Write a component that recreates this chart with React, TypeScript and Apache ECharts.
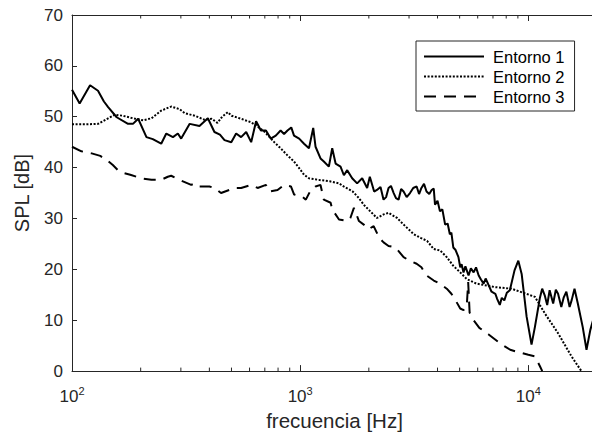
import React, { useEffect, useRef } from "react";
import * as echarts from "echarts";

const FONT = "'Liberation Sans', Arial, Helvetica, sans-serif";
const INK = "#262626";

const SERIES_NAMES = ["Entorno 1", "Entorno 2", "Entorno 3"];
const X_MIN = 100;
const X_MAX = 20000;
const Y_MIN = 0;
const Y_MAX = 70;
const Y_STEP = 10;
const MINOR_TICKS = [200, 300, 400, 500, 600, 700, 800, 900, 2000, 3000, 4000, 5000, 6000, 7000, 8000, 9000];

// [frequency Hz, SPL dB]
const ENTORNO_1: [number, number][] = [
  [100, 55.3], [108, 52.6], [120, 56.2], [130, 55.1], [138, 53.0], [144, 51.9], [157, 49.9], [176, 48.6],
  [185, 48.6], [195, 49.6], [212, 46.0], [226, 45.6], [246, 44.7], [259, 46.7], [277, 46.0], [291, 46.7],
  [301, 45.7], [328, 48.6], [362, 48.2], [394, 49.7], [421, 47.0], [445, 46.5], [466, 45.4], [499, 45.0],
  [524, 46.7], [551, 46.0], [580, 47.0], [610, 45.0], [641, 49.1], [673, 47.3], [708, 47.3], [743, 45.7],
  [782, 46.3], [821, 47.3], [850, 46.6], [880, 47.3], [914, 47.9], [940, 46.3], [990, 45.7], [1040, 44.7],
  [1093, 43.8], [1141, 47.8], [1168, 44.1], [1228, 41.8], [1270, 41.2], [1336, 40.2], [1382, 43.8],
  [1430, 40.8], [1503, 40.2], [1555, 38.5], [1608, 39.5], [1690, 37.9], [1777, 36.9], [1870, 37.9],
  [1966, 36.0], [2020, 38.2], [2110, 35.3], [2170, 35.6], [2250, 36.2], [2320, 33.7], [2380, 34.2],
  [2440, 36.0], [2500, 36.4], [2570, 35.0], [2630, 34.0], [2700, 33.7], [2770, 35.8], [2840, 35.3],
  [2930, 34.2], [3030, 35.0], [3130, 36.0], [3240, 36.3], [3320, 34.8], [3400, 36.0], [3490, 36.8],
  [3580, 35.3], [3680, 34.8], [3770, 35.6], [3850, 35.9], [3900, 32.7], [4000, 33.5], [4100, 31.4],
  [4200, 31.8], [4320, 28.8], [4430, 29.0], [4530, 26.9], [4600, 27.2], [4690, 24.3], [4800, 23.8],
  [4940, 22.4], [5030, 20.4], [5100, 21.0], [5200, 19.4], [5300, 20.6], [5470, 18.8], [5600, 20.2],
  [5760, 19.4], [5900, 20.4], [6060, 18.8], [6200, 18.0], [6370, 17.2], [6500, 18.2], [6700, 16.9],
  [6900, 15.6], [7170, 15.2], [7300, 14.2], [7500, 13.0], [7650, 14.4], [7850, 13.9], [8050, 15.4],
  [8300, 15.9], [8700, 19.8], [9040, 21.7], [9350, 19.1], [9830, 10.7], [10330, 5.2], [10690, 8.7],
  [11230, 14.3], [11500, 16.2], [11800, 14.9], [12100, 13.0], [12400, 15.9], [12850, 13.3], [13200, 16.0],
  [13500, 15.2], [13950, 12.6], [14300, 14.5], [14680, 15.6], [15170, 12.6], [15500, 14.0], [15940, 16.2],
  [16480, 13.3], [17310, 8.7], [17990, 4.2], [18700, 8.1], [19500, 11.0],
];

const ENTORNO_2: [number, number][] = [
  [100, 48.5], [114, 48.5], [130, 48.6], [144, 49.7], [154, 50.4], [167, 50.2], [185, 49.7], [205, 49.3],
  [223, 49.7], [246, 51.2], [272, 52.0], [296, 51.5], [312, 50.7], [345, 50.2], [381, 49.4], [410, 49.6],
  [434, 48.8], [455, 50.0], [482, 50.9], [500, 50.2], [551, 49.6], [610, 48.9], [641, 48.3], [700, 47.0],
  [770, 45.0], [821, 43.8], [880, 42.4], [940, 41.2], [990, 39.9], [1040, 38.6], [1093, 37.9], [1200, 37.6],
  [1350, 37.3], [1480, 36.9], [1550, 36.3], [1700, 35.3], [1810, 34.0], [1900, 32.7], [2030, 31.4],
  [2170, 30.1], [2320, 30.8], [2440, 31.1], [2660, 30.1], [2840, 28.8], [3150, 26.9], [3370, 26.2],
  [3600, 25.6], [3850, 24.0], [4110, 23.7], [4390, 22.4], [4690, 20.7], [5030, 19.4], [5370, 18.1],
  [5920, 17.2], [7170, 16.5], [8430, 16.2], [10690, 14.6], [11830, 11.3], [13520, 7.4], [15460, 2.9],
  [17090, 0],
];

const ENTORNO_3: [number, number][] = [
  [100, 44.1], [110, 43.2], [122, 42.8], [133, 42.3], [142, 41.5], [151, 40.5], [159, 39.5], [170, 38.9],
  [180, 38.6], [201, 37.9], [223, 37.6], [246, 37.6], [263, 38.2], [272, 38.4], [296, 37.6], [333, 36.6],
  [345, 36.9], [362, 36.3], [400, 36.3], [421, 36.0], [450, 35.0], [515, 36.0], [551, 36.0], [609, 36.6],
  [651, 36.0], [708, 36.6], [732, 35.3], [796, 35.6], [851, 36.6], [911, 36.3], [941, 34.7], [1023, 34.3],
  [1059, 33.7], [1113, 35.6], [1168, 36.3], [1228, 36.6], [1270, 33.7], [1360, 33.1], [1382, 31.8],
  [1480, 29.8], [1610, 29.5], [1660, 30.1], [1720, 32.1], [1810, 29.5], [1900, 28.8], [1995, 27.9],
  [2100, 28.5], [2220, 26.2], [2320, 25.3], [2440, 24.6], [2620, 24.3], [2840, 22.4], [3020, 21.7],
  [3240, 21.1], [3400, 20.4], [3580, 18.8], [3850, 17.8], [4100, 17.2], [4390, 16.2], [4600, 15.2],
  [4800, 13.9], [5030, 12.3], [5200, 12.0], [5370, 12.6], [5450, 17.5], [5530, 11.5], [5760, 10.0],
  [6100, 8.5], [6700, 7.2], [7550, 5.4], [8330, 4.2], [8750, 3.9], [10000, 3.2], [10690, 2.9],
  [11230, 1.0], [11510, 0],
];

function powerLabel(val: number): string {
  const e = Math.round(Math.log10(val));
  if (Math.abs(val - Math.pow(10, e)) < 1e-6 * val) return `{b|10}{s|${e}}`;
  return "";
}

export default function App() {
  const ref = useRef<HTMLDivElement>(null);

  useEffect(() => {
    if (!ref.current) return;
    document.body.style.margin = "0";
    const chart = echarts.init(ref.current, undefined, { renderer: "svg" });
    const axisLine = { show: true, onZero: false, lineStyle: { color: INK, width: 1 } };
    const lineSeries = (name: string, data: [number, number][], type: any) => ({
      name,
      type: "line",
      data,
      symbol: "none",
      showSymbol: false,
      smooth: false,
      lineStyle: { color: "#000", width: 2, type },
      itemStyle: { color: "#000" },
      z: 3,
    });

    chart.setOption({
      animation: false,
      backgroundColor: "#fff",
      textStyle: { fontFamily: FONT },
      grid: { left: 72, top: 15, right: 0, bottom: 61, containLabel: false },
      legend: {
        data: SERIES_NAMES,
        orient: "vertical",
        left: 416,
        top: 41,
        itemWidth: 60,
        itemHeight: 14,
        itemGap: 3,
        padding: [7, 10, 6, 7],
        borderColor: INK,
        borderWidth: 1,
        backgroundColor: "#fff",
        itemStyle: { opacity: 0, borderWidth: 0 },
        textStyle: { fontSize: 16.5, color: "#000", fontFamily: FONT, padding: [0, 0, 0, 4] },
      },
      xAxis: [
        {
          type: "log",
          logBase: 10,
          min: X_MIN,
          max: X_MAX,
          position: "bottom",
          axisLine,
          axisTick: { show: true, inside: true, length: 6, lineStyle: { color: INK } },
          axisLabel: {
            formatter: powerLabel,
            margin: 14,
            rich: {
              b: { fontSize: 17, color: INK, fontFamily: FONT, lineHeight: 20, verticalAlign: "bottom" },
              s: { fontSize: 11, color: INK, fontFamily: FONT, lineHeight: 4, verticalAlign: "top" },
            },
          },
          splitLine: { show: false },
          minorTick: { show: false },
          name: "frecuencia [Hz]",
          nameLocation: "middle",
          nameGap: 29,
          nameTextStyle: { fontSize: 20.5, color: INK, fontFamily: FONT },
        },
        {
          type: "log",
          logBase: 10,
          min: X_MIN,
          max: X_MAX,
          position: "top",
          axisLine,
          axisTick: { show: true, inside: true, length: 6, lineStyle: { color: INK } },
          axisLabel: { show: false },
          splitLine: { show: false },
        },
      ],
      yAxis: [
        {
          type: "value",
          min: Y_MIN,
          max: Y_MAX,
          interval: Y_STEP,
          axisLine,
          axisTick: { show: true, inside: true, length: 5, lineStyle: { color: INK } },
          axisLabel: { fontSize: 17, color: INK, fontFamily: FONT, margin: 9 },
          splitLine: { show: false },
          name: "SPL [dB]",
          nameLocation: "middle",
          nameRotate: 90,
          nameGap: 40,
          nameTextStyle: { fontSize: 20, color: INK, fontFamily: FONT },
        },
        {
          type: "value",
          min: Y_MIN,
          max: Y_MAX,
          interval: Y_STEP,
          position: "right",
          axisLine,
          axisTick: { show: true, inside: true, length: 5, lineStyle: { color: INK } },
          axisLabel: { show: false },
          splitLine: { show: false },
        },
      ],
      series: [
        lineSeries(SERIES_NAMES[0], ENTORNO_1, "solid"),
        lineSeries(SERIES_NAMES[1], ENTORNO_2, [2, 1.6]),
        lineSeries(SERIES_NAMES[2], ENTORNO_3, [12, 8]),
        {
          name: "minorTicks",
          type: "custom",
          xAxisIndex: 0,
          yAxisIndex: 0,
          data: MINOR_TICKS.map((v) => [v, Y_MIN]),
          encode: { x: 0, y: 1 },
          clip: false,
          silent: true,
          z: 1,
          renderItem: (_params: any, api: any) => {
            const v = api.value(0);
            const pb = api.coord([v, Y_MIN]);
            const pt = api.coord([v, Y_MAX]);
            const style = { stroke: INK, lineWidth: 1, fill: null };
            return {
              type: "group",
              children: [
                { type: "line", shape: { x1: pb[0], y1: pb[1], x2: pb[0], y2: pb[1] - 3.5 }, style },
                { type: "line", shape: { x1: pt[0], y1: pt[1], x2: pt[0], y2: pt[1] + 3.5 }, style },
              ],
            };
          },
        },
      ],
    });

    return () => chart.dispose();
  }, []);

  return (
    <div style={{ position: "absolute", left: 0, top: 0, width: 592, height: 436, overflow: "hidden", background: "#fff" }}>
      <div ref={ref} style={{ width: 600, height: 436 }} />
    </div>
  );
}
